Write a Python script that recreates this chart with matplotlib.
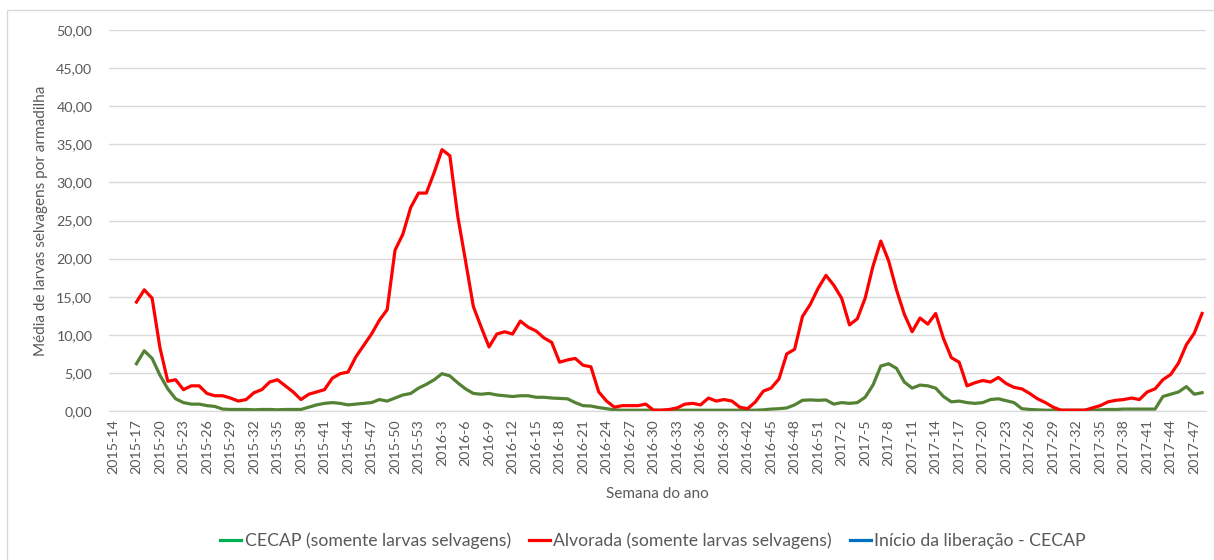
import matplotlib
matplotlib.use("Agg")
import matplotlib.pyplot as plt
from matplotlib.lines import Line2D
from matplotlib.patches import Rectangle
from matplotlib.ticker import FuncFormatter
import numpy as np

plt.rcParams['font.family'] = ['Lato', 'DejaVu Sans']

# week categories (year, week)
weeks_2015 = list(range(14, 54))
weeks_2016 = list(range(1, 53))
weeks_2017 = list(range(1, 49))
semanas = ([f"2015-{w}" for w in weeks_2015] + [f"2016-{w}" for w in weeks_2016]
           + [f"2017-{w}" for w in weeks_2017])

# no data for the first three weeks
cecap = [None, None, None,
         6.2, 7.9, 6.9, 4.7, 2.9, 1.6, 1.1, 0.9, 0.9, 0.7, 0.6, 0.25, 0.2, 0.2, 0.2, 0.15, 0.2, 0.2, 0.15, 0.2, 0.2, 0.2,
         0.5, 0.8, 1.0, 1.1, 1.0, 0.8, 0.9, 1.0, 1.1, 1.5, 1.3, 1.7, 2.1, 2.3, 3.0, 3.5, 4.1, 4.9, 4.6, 3.7, 2.9, 2.3, 2.2, 2.3,
         2.1, 2.0, 1.9, 2.0, 2.0, 1.8, 1.8, 1.7, 1.65, 1.6, 1.1, 0.7, 0.65, 0.45, 0.3, 0.15,
         0.1, 0.1, 0.1, 0.1, 0.1, 0.1, 0.1, 0.1, 0.1, 0.1, 0.1, 0.1, 0.1, 0.1, 0.1, 0.1, 0.1, 0.1, 0.15,
         0.25, 0.3, 0.4, 0.8, 1.4, 1.45, 1.4, 1.45, 0.9, 1.1, 1.0, 1.1,
         1.8, 3.4, 5.9, 6.2, 5.6, 3.8, 3.0, 3.4, 3.3, 3.0, 1.9, 1.2, 1.3, 1.1, 1.0, 1.1, 1.5, 1.6, 1.35, 1.1, 0.3, 0.2, 0.15, 0.1, 0.1,
         0.1, 0.1, 0.1, 0.1, 0.1, 0.15, 0.2, 0.2, 0.25, 0.25, 0.25, 0.25, 0.25,
         1.9, 2.2, 2.5, 3.2, 2.2, 2.4]

alvorada = [None, None, None,
            14.3, 15.9, 14.8, 8.3, 3.9, 4.1, 2.8, 3.3, 3.3, 2.3, 2.0, 2.0, 1.7, 1.3, 1.5, 2.4, 2.8, 3.8, 4.1, 3.3, 2.5, 1.5,
            2.2, 2.5, 2.8, 4.3, 4.9, 5.1, 7.1, 8.6, 10.1, 11.9, 13.3, 21.1, 23.2, 26.7, 28.6, 28.6, 31.3, 34.3, 33.5, 25.6,
            19.7, 13.7, 11.0, 8.4,
            10.1, 10.4, 10.1, 11.8, 11.0, 10.5, 9.6, 9.0, 6.4, 6.7, 6.9, 6.0, 5.8, 2.5, 1.3, 0.5, 0.7, 0.7, 0.7, 0.9,
            0.1, 0.1, 0.2, 0.4,
            0.9, 1.0, 0.8, 1.7, 1.3, 1.5, 1.3, 0.5, 0.3, 1.2, 2.6, 3.0, 4.2, 7.5, 8.1, 12.4, 14.0, 16.1, 17.8, 16.5,
            14.8, 11.3, 12.1,
            14.8, 19.0, 22.3, 19.7, 15.9, 12.7, 10.4, 12.2, 11.4, 12.8, 9.5, 7.0, 6.4, 3.3, 3.7, 4.0, 3.8, 4.4, 3.6,
            3.1, 2.9, 2.3, 1.6, 1.1, 0.5,
            0.1, 0.1, 0.1, 0.1, 0.4, 0.7, 1.2, 1.4, 1.5, 1.7, 1.5, 2.5, 2.9, 4.1, 4.8, 6.3, 8.7, 10.2, 12.8]

cecap = np.array(cecap, dtype=float)
alvorada = np.array(alvorada, dtype=float)
x = np.arange(len(semanas))

fig = plt.figure(figsize=(12.14, 5.6), dpi=100)
ax = fig.add_axes([0.0898, 0.2661, 0.9036, 0.6803])

grey = '#595959'
ax.plot(x, cecap, color='#548235', lw=2.3, solid_joinstyle='round')
ax.plot(x, alvorada, color='#ff0000', lw=2.3, solid_joinstyle='round')

ax.set_xlim(-0.5, len(semanas) - 0.5)
ax.set_ylim(0, 50)
ax.set_yticks(np.arange(0, 51, 5))
ax.yaxis.set_major_formatter(FuncFormatter(lambda v, p: f"{v:.2f}".replace('.', ',')))
ax.set_xticks(x[::3])
ax.set_xticklabels(semanas[::3], rotation=90)
ax.tick_params(axis='both', length=0, colors=grey, labelsize=10.3)
ax.tick_params(axis='y', pad=12)
ax.tick_params(axis='x', pad=6)
ax.grid(axis='y', color='#d9d9d9', lw=1)
ax.set_axisbelow(True)
for s in ['top', 'right', 'left']:
    ax.spines[s].set_visible(False)
ax.spines['bottom'].set_color('#d9d9d9')

ax.set_ylabel('Média de larvas selvagens por armadilha', color=grey, fontsize=11, labelpad=6)
ax.set_xlabel('Semana do ano', color=grey, fontsize=11, labelpad=9)

handles = [Line2D([], [], color='#00b050', lw=2.3),
           Line2D([], [], color='#ff0000', lw=2.3),
           Line2D([], [], color='#0070c0', lw=2.3)]
labels = ['CECAP (somente larvas selvagens)', 'Alvorada (somente larvas selvagens)',
          'Início da liberação - CECAP']
fig.legend(handles, labels, loc='center', bbox_to_anchor=(0.538, 0.034), ncol=3, frameon=False,
           fontsize=12.7, handlelength=1.2, handletextpad=0.2, columnspacing=1.0, labelcolor=grey)

fig.patches.append(Rectangle((0.006, -0.05), 1.1, 1.032, transform=fig.transFigure,
                             fill=False, edgecolor='#d9d9d9', lw=1))

fig.savefig('out.png', dpi=100)
